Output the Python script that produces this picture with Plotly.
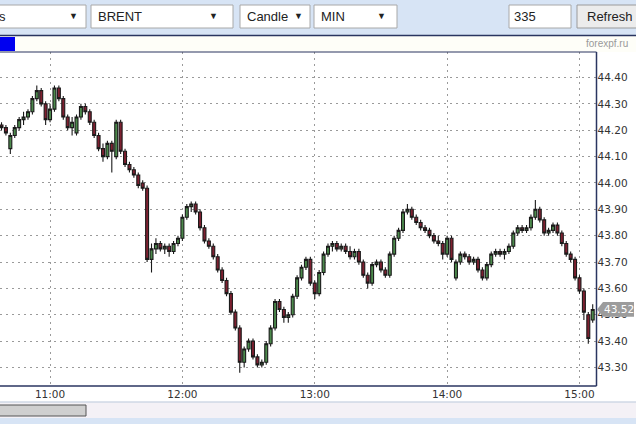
import plotly.graph_objects as go
import pandas as pd

# ---- data: 2-minute BRENT candles ----
start_time = "2016-05-11 10:38"
n_candles = 135
open_ = [44.22,44.21,44.13,44.18,44.21,44.24,44.25,44.27,44.32,44.35,44.30,44.24,44.28,44.36,44.32,44.25,
         44.21,44.19,44.25,44.29,44.27,44.23,44.18,44.13,44.10,44.15,44.10,44.23,44.12,44.07,44.05,44.03,
         44.00,43.98,43.71,43.75,43.77,43.75,43.76,43.74,43.77,43.79,43.87,43.91,43.92,43.89,43.83,43.78,
         43.76,43.72,43.67,43.63,43.58,43.51,43.45,43.32,43.37,43.40,43.34,43.31,43.32,43.39,43.45,43.55,
         43.52,43.49,43.50,43.57,43.64,43.68,43.71,43.62,43.58,43.66,43.73,43.76,43.77,43.75,43.76,43.74,
         43.72,43.74,43.70,43.65,43.62,43.69,43.70,43.67,43.65,43.73,43.79,43.82,43.89,43.90,43.87,43.85,
         43.83,43.82,43.80,43.78,43.77,43.73,43.79,43.64,43.70,43.73,43.72,43.70,43.71,43.67,43.64,43.69,
         43.73,43.74,43.73,43.74,43.76,43.81,43.83,43.82,43.83,43.87,43.90,43.86,43.81,43.82,43.84,43.81,
         43.77,43.73,43.71,43.64,43.59,43.50,43.48]
high = [44.23,44.22,44.19,44.22,44.25,44.27,44.28,44.33,44.37,44.36,44.31,44.30,44.37,44.37,44.33,44.26,
        44.25,44.26,44.30,44.30,44.28,44.24,44.19,44.15,44.16,44.16,44.24,44.24,44.13,44.08,44.06,44.04,
        44.01,43.99,43.77,43.79,43.78,43.77,43.77,43.78,43.80,43.88,43.92,43.93,43.93,43.90,43.84,43.79,
        43.77,43.73,43.68,43.64,43.59,43.52,43.46,43.38,43.41,43.41,43.35,43.33,43.40,43.46,43.56,43.56,
        43.53,43.51,43.58,43.65,43.69,43.72,43.72,43.63,43.67,43.74,43.77,43.78,43.78,43.77,43.77,43.76,
        43.75,43.75,43.71,43.66,43.70,43.71,43.71,43.68,43.74,43.80,43.83,43.90,43.92,43.91,43.88,43.86,
        43.84,43.83,43.81,43.80,43.78,43.80,43.80,43.71,43.74,43.74,43.73,43.72,43.72,43.68,43.70,43.74,
        43.75,43.75,43.75,43.77,43.82,43.84,43.84,43.84,43.88,43.935,43.91,43.87,43.83,43.85,43.85,43.82,
        43.78,43.74,43.72,43.65,43.60,43.51,43.54]
low = [44.20,44.18,44.11,44.17,44.20,44.22,44.24,44.26,44.31,44.29,44.22,44.23,44.27,44.31,44.24,44.20,
       44.18,44.18,44.24,44.26,44.22,44.17,44.12,44.08,44.09,44.04,44.09,44.11,44.06,44.04,44.02,43.98,
       43.97,43.70,43.66,43.73,43.74,43.73,43.72,43.73,43.76,43.78,43.86,43.89,43.88,43.82,43.77,43.75,
       43.71,43.66,43.62,43.57,43.50,43.44,43.28,43.30,43.36,43.33,43.30,43.30,43.31,43.38,43.44,43.51,
       43.47,43.47,43.49,43.56,43.63,43.67,43.61,43.56,43.57,43.65,43.72,43.74,43.74,43.74,43.73,43.71,
       43.71,43.69,43.64,43.60,43.61,43.68,43.66,43.64,43.64,43.72,43.78,43.81,43.88,43.86,43.84,43.82,
       43.81,43.79,43.77,43.76,43.71,43.72,43.70,43.63,43.69,43.71,43.69,43.69,43.66,43.63,43.63,43.68,
       43.72,43.72,43.71,43.73,43.75,43.80,43.81,43.81,43.82,43.86,43.85,43.80,43.80,43.81,43.80,43.76,
       43.72,43.70,43.63,43.58,43.48,43.39,43.47]
close = [44.21,44.19,44.18,44.21,44.24,44.25,44.27,44.32,44.35,44.30,44.24,44.28,44.36,44.32,44.25,44.21,
         44.23,44.25,44.29,44.27,44.23,44.18,44.13,44.10,44.15,44.12,44.23,44.12,44.07,44.05,44.03,43.99,
         43.98,43.71,43.75,43.77,43.75,43.76,43.74,43.77,43.79,43.87,43.91,43.92,43.89,43.83,43.78,43.76,
         43.72,43.67,43.63,43.58,43.51,43.45,43.32,43.37,43.40,43.34,43.31,43.32,43.39,43.45,43.55,43.52,
         43.49,43.50,43.57,43.64,43.68,43.71,43.62,43.58,43.66,43.73,43.76,43.77,43.75,43.76,43.74,43.72,
         43.74,43.70,43.65,43.62,43.69,43.70,43.67,43.65,43.73,43.79,43.82,43.89,43.90,43.87,43.85,43.83,
         43.82,43.80,43.78,43.77,43.73,43.79,43.71,43.70,43.73,43.72,43.70,43.71,43.67,43.64,43.69,43.73,
         43.74,43.73,43.74,43.76,43.81,43.83,43.82,43.83,43.87,43.90,43.86,43.81,43.82,43.84,43.81,43.77,
         43.73,43.71,43.64,43.59,43.51,43.41,43.52]

price_ticks = [44.40, 44.30, 44.20, 44.10, 44.00, 43.90, 43.80, 43.70, 43.60, 43.50, 43.40, 43.30]
hour_ticks = ["2016-05-11 11:00", "2016-05-11 12:00", "2016-05-11 13:00",
              "2016-05-11 14:00", "2016-05-11 15:00"]
hour_labels = ["11:00", "12:00", "13:00", "14:00", "15:00"]
last_price = 43.52
x_range = ["2016-05-11 10:37:19", "2016-05-11 15:07:43"]
y_range = [43.2297, 44.4967]

times = pd.date_range(start_time, periods=n_candles, freq="2min")

W, H = 636, 424
def px(x):
    return x / W
def py(y):
    return 1 - y / H

fig = go.Figure()
fig.add_trace(go.Candlestick(
    x=times, open=open_, high=high, low=low, close=close,
    increasing=dict(line=dict(color="#1a1a1a", width=1.1), fillcolor="#4c8a4c"),
    decreasing=dict(line=dict(color="#1a1a1a", width=1.1), fillcolor="#7e2030"),
    whiskerwidth=0, showlegend=False, hoverinfo="skip",
))

shapes = []
annots = []
# toolbar background
shapes.append(dict(type="rect", xref="paper", yref="paper", x0=0, x1=1, y0=py(35), y1=1,
                   fillcolor="#d7e4f5", line=dict(width=0), layer="below"))
# strip under toolbar
shapes.append(dict(type="rect", xref="paper", yref="paper", x0=0, x1=1, y0=py(52), y1=py(36),
                   fillcolor="#fefef8", line=dict(width=0), layer="below"))
shapes.append(dict(type="rect", xref="paper", yref="paper", x0=0, x1=px(15), y0=py(51), y1=py(37),
                   fillcolor="#0000f0", line=dict(width=0), layer="below"))
shapes.append(dict(type="line", xref="paper", yref="paper", x0=0, x1=1, y0=py(35.5), y1=py(35.5),
                   line=dict(color="#2a3560", width=1.5)))
# plot frame
shapes.append(dict(type="line", xref="paper", yref="paper", x0=0, x1=px(596.5), y0=py(52), y1=py(52),
                   line=dict(color="#2a3560", width=1.2)))
shapes.append(dict(type="line", xref="paper", yref="paper", x0=px(596.5), x1=px(596.5), y0=py(386), y1=py(52),
                   line=dict(color="#2a3560", width=1.5)))
shapes.append(dict(type="line", xref="paper", yref="paper", x0=0, x1=px(596.5), y0=py(386), y1=py(386),
                   line=dict(color="#2a3560", width=1.5)))
# scroll bar region
shapes.append(dict(type="line", xref="paper", yref="paper", x0=0, x1=1, y0=py(402), y1=py(402),
                   line=dict(color="#b8c4d8", width=1)))
shapes.append(dict(type="rect", xref="paper", yref="paper", x0=0, x1=1, y0=py(418), y1=py(402.5),
                   fillcolor="#f4f1f6", line=dict(width=0), layer="below"))
shapes.append(dict(type="rect", xref="paper", yref="paper", x0=px(-2), x1=px(86), y0=py(416), y1=py(405),
                   fillcolor="#cfcfcf", line=dict(color="#555555", width=1)))
shapes.append(dict(type="rect", xref="paper", yref="paper", x0=0, x1=1, y0=0, y1=py(418),
                   fillcolor="#d7e4f5", line=dict(width=0), layer="below"))

# toolbar controls
def box(x0, x1, fill="#ffffff", border="#a8a8a8"):
    shapes.append(dict(type="rect", xref="paper", yref="paper", x0=px(x0), x1=px(x1), y0=py(28), y1=py(5),
                       fillcolor=fill, line=dict(color=border, width=1)))

def text(x, y, s, size=13, color="#222222", anchor="left", family="Liberation Sans, Arial, sans-serif"):
    annots.append(dict(xref="paper", yref="paper", x=px(x), y=py(y), text=s, showarrow=False,
                       xanchor=anchor, yanchor="middle", font=dict(size=size, color=color, family=family)))

box(-5, 86); text(-3, 16.5, "s"); text(73, 16.5, "▼", size=9, anchor="center")
box(91, 233); text(96, 16.5, "BRENT"); text(213, 16.5, "▼", size=9, anchor="center")
box(240, 310); text(245, 16.5, "Candle"); text(298, 16.5, "▼", size=9, anchor="center")
box(314, 397); text(319, 16.5, "MIN"); text(381, 16.5, "▼", size=9, anchor="center")
box(509, 571); text(512, 16.5, "335")
box(577, 645, fill="#ececec", border="#9a9a9a"); text(585, 16.5, "Refresh")
text(630, 44, "forexpf.ru", size=10, color="#9a9a9a", anchor="right")

# last price marker
shapes.append(dict(type="path", xref="paper", yref="y",
                   path=(f"M {px(597)} {last_price} L {px(603)} {last_price + 0.028} "
                         f"L {px(634)} {last_price + 0.028} L {px(634)} {last_price - 0.028} "
                         f"L {px(603)} {last_price - 0.028} Z"),
                   fillcolor="#9c9c9c", line=dict(width=0), layer="above"))
annots.append(dict(xref="paper", yref="y", x=px(618.5), y=last_price, text=f"{last_price:.2f}",
                   showarrow=False, xanchor="center", yanchor="middle",
                   font=dict(size=10.5, color="#ffffff", family="DejaVu Sans, sans-serif")))

fig.update_layout(
    width=W, height=H, margin=dict(l=0, r=0, t=0, b=0),
    paper_bgcolor="#ffffff", plot_bgcolor="#ffffff", boxgap=0.05,
    shapes=shapes, annotations=annots, showlegend=False,
    xaxis=dict(type="date", range=x_range, domain=[0, px(596.5)], rangeslider=dict(visible=False),
               tickvals=hour_ticks, ticktext=hour_labels, showgrid=True, gridcolor="#9a9a9a",
               griddash="2px,4px", gridwidth=1, zeroline=False, showline=False, ticks="",
               tickfont=dict(size=10.5, color="#333333", family="DejaVu Sans, sans-serif"),
               fixedrange=True),
    yaxis=dict(range=y_range, domain=[1 - 386 / H, 1 - 52 / H], side="right",
               tickvals=price_ticks, ticktext=[f"{v:.2f}" for v in price_ticks],
               showgrid=True, gridcolor="#9a9a9a", griddash="2px,4px", gridwidth=1,
               zeroline=False, showline=False, ticks="",
               tickfont=dict(size=10.5, color="#333333", family="DejaVu Sans, sans-serif"),
               fixedrange=True),
)

fig.write_html("out.html", config={"displayModeBar": False},
               post_script="document.body.style.margin='0';document.body.style.padding='0';")
